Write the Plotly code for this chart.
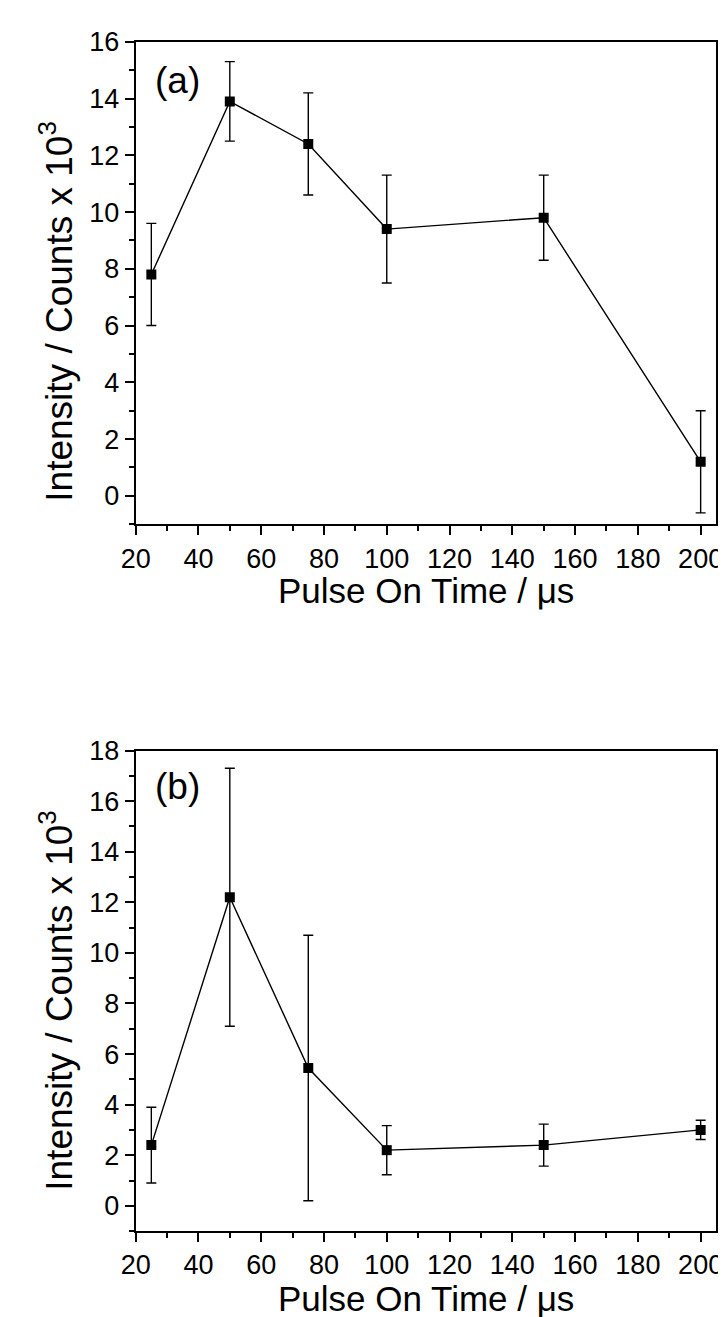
import plotly.graph_objects as go

pulse_on_time = [25, 50, 75, 100, 150, 200]
intensity_a = [7.8, 13.9, 12.4, 9.4, 9.8, 1.2]
error_a = [1.8, 1.4, 1.8, 1.9, 1.5, 1.8]
intensity_b = [2.4, 12.2, 5.45, 2.2, 2.4, 3.0]
error_b = [1.5, 5.1, 5.25, 0.97, 0.83, 0.38]

x_ticks = [20, 40, 60, 80, 100, 120, 140, 160, 180, 200]
y_ticks_a = [0, 2, 4, 6, 8, 10, 12, 14, 16]
y_ticks_b = [0, 2, 4, 6, 8, 10, 12, 14, 16, 18]

FONT = "Liberation Sans, Arial, sans-serif"
W, H = 726, 1317
Y_TITLE = "Intensity / Counts x 10<sup>3</sup>"
X_TITLE = "Pulse On Time / μs"

fig = go.Figure()
for vals, errs, xa, ya in [(intensity_a, error_a, "x", "y"), (intensity_b, error_b, "x2", "y2")]:
    fig.add_trace(go.Scatter(
        x=pulse_on_time, y=vals, xaxis=xa, yaxis=ya,
        mode="lines+markers",
        line=dict(color="black", width=1.4),
        marker=dict(symbol="square", size=10, color="black"),
        error_y=dict(type="data", array=errs, visible=True, color="black", thickness=1.4, width=5),
        showlegend=False,
    ))

x_left, x_right = 116 / W, 714 / W

def xaxis_cfg(anchor):
    return dict(
        domain=[x_left, x_right], anchor=anchor, range=[20, 205],
        tickmode="array", tickvals=x_ticks,
        ticks="outside", ticklen=9, tickwidth=1.5, tickcolor="black",
        minor=dict(dtick=10, tick0=0, ticks="outside", ticklen=5, tickwidth=1.5, tickcolor="black"),
        showline=True, linecolor="black", linewidth=1.8, mirror=True,
        showgrid=False, zeroline=False,
        tickfont=dict(family=FONT, size=27, color="black"),
    )

def yaxis_cfg(anchor, top_px, bot_px, rng, ticks):
    return dict(
        domain=[1 - bot_px / H, 1 - top_px / H], anchor=anchor, range=rng,
        tickmode="array", tickvals=ticks,
        ticks="outside", ticklen=9, tickwidth=1.5, tickcolor="black",
        minor=dict(dtick=1, tick0=0, ticks="outside", ticklen=5, tickwidth=1.5, tickcolor="black"),
        showline=True, linecolor="black", linewidth=1.8, mirror=True,
        showgrid=False, zeroline=False,
        tickfont=dict(family=FONT, size=27, color="black"),
    )

fig.update_layout(
    width=W, height=H,
    margin=dict(l=0, r=0, t=0, b=0),
    paper_bgcolor="white", plot_bgcolor="white",
    xaxis=xaxis_cfg("y"),
    yaxis=yaxis_cfg("x", 19, 507, [-1, 16], y_ticks_a),
    xaxis2=xaxis_cfg("y2"),
    yaxis2=yaxis_cfg("x2", 736, 1222, [-1, 18], y_ticks_b),
)

for label, cy in [("(a)", 58), ("(b)", 772)]:
    fig.add_annotation(text=label, xref="paper", yref="paper", x=134 / W, y=1 - cy / H,
                       xanchor="left", yanchor="middle", showarrow=False,
                       font=dict(family=FONT, size=37, color="black"))

for cy in [291, 988]:
    fig.add_annotation(text=Y_TITLE, xref="paper", yref="paper", x=35 / W, y=1 - cy / H,
                       xanchor="center", yanchor="middle", textangle=-90, showarrow=False,
                       font=dict(family=FONT, size=37, color="black"))

for cy in [574, 1290]:
    fig.add_annotation(text=X_TITLE, xref="paper", yref="paper", x=(x_left + x_right) / 2, y=1 - cy / H,
                       xanchor="center", yanchor="middle", showarrow=False, borderpad=0,
                       font=dict(family=FONT, size=35, color="black"))

fig.write_html("out.html")
